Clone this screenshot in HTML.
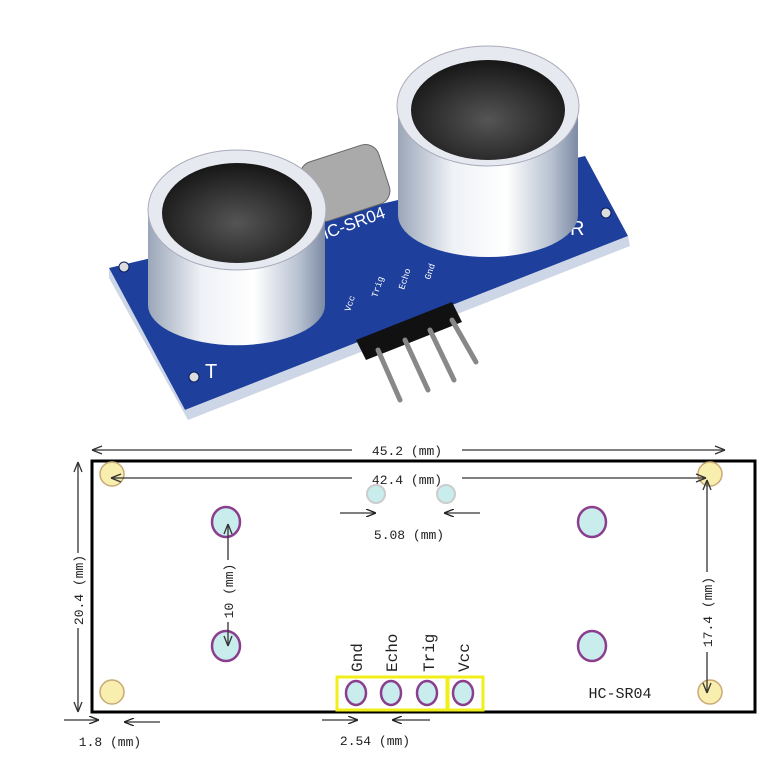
<!DOCTYPE html>
<html><head><meta charset="utf-8"><style>
html,body{margin:0;padding:0;background:#fff;}
svg{display:block;}
text{font-family:"Liberation Mono",monospace;fill:#222;}
</style></head><body>
<svg width="780" height="780" viewBox="0 0 780 780" xmlns="http://www.w3.org/2000/svg">
<defs>
<marker id="ah" markerWidth="10" markerHeight="8" refX="9" refY="4" orient="auto" markerUnits="userSpaceOnUse">
<path d="M0,0 L10,4 L0,8" fill="none" stroke="#222" stroke-width="1.3"/></marker>
<linearGradient id="cyl" x1="0" x2="1" y1="0" y2="0">
<stop offset="0" stop-color="#9aa6b8"/><stop offset="0.3" stop-color="#eef1f6"/><stop offset="0.6" stop-color="#ffffff"/><stop offset="0.85" stop-color="#b8c2d2"/><stop offset="1" stop-color="#7c8aa3"/></linearGradient>
<radialGradient id="mesh" cx="0.5" cy="0.6" r="0.6"><stop offset="0" stop-color="#555"/><stop offset="1" stop-color="#161616"/></radialGradient>
</defs>
<!-- PCB -->
<polygon points="109,268 585,156 628,236 185,410" fill="#1e3f9c"/>
<polygon points="109,268 185,410 628,236 630,246 188,420 109,278" fill="#cdd6e6"/>
<circle cx="124" cy="267" r="5" fill="#ddd" stroke="#0c1e5a"/>
<circle cx="194" cy="377" r="5" fill="#ddd" stroke="#0c1e5a"/>
<circle cx="606" cy="213" r="5" fill="#ddd" stroke="#0c1e5a"/>
<text x="205" y="378" style="font-family:'Liberation Sans',sans-serif;fill:#fff;font-size:20px">T</text>
<text x="570" y="235" style="font-family:'Liberation Sans',sans-serif;fill:#fff;font-size:20px">R</text>
<text x="318" y="242" transform="rotate(-20 318 242)" style="font-family:'Liberation Sans',sans-serif;fill:#fff;font-size:17px">HC-SR04</text>
<!-- crystal -->
<rect x="304" y="152" width="82" height="62" rx="14" fill="#aaa" stroke="#666" transform="rotate(-18 345 183)"/>
<!-- header & pins -->
<polygon points="356,340 452,302 462,322 366,360" fill="#111"/>
<g stroke="#888" stroke-width="5" stroke-linecap="round">
<line x1="378" y1="350" x2="400" y2="400"/><line x1="405" y1="340" x2="428" y2="390"/><line x1="430" y1="330" x2="454" y2="380"/><line x1="452" y1="320" x2="476" y2="362"/></g>
<g font-size="9">
<text x="350" y="312" transform="rotate(-72 350 312)" style="fill:#fff">Vcc</text>
<text x="377" y="298" transform="rotate(-72 377 298)" style="fill:#fff">Trig</text>
<text x="404" y="290" transform="rotate(-72 404 290)" style="fill:#fff">Echo</text>
<text x="430" y="280" transform="rotate(-72 430 280)" style="fill:#fff">Gnd</text></g>
<!-- left cylinder -->
<path d="M148,210 L148,305 A88,40 0 0 0 325,305 L325,210 Z" fill="url(#cyl)"/>
<ellipse cx="237" cy="210" rx="89" ry="60" fill="#e6e9ef" stroke="#aab" />
<ellipse cx="237" cy="213" rx="75" ry="50" fill="url(#mesh)"/>
<!-- right cylinder -->
<path d="M398,106 L398,215 A90,42 0 0 0 578,215 L578,106 Z" fill="url(#cyl)"/>
<ellipse cx="488" cy="106" rx="91" ry="60" fill="#e6e9ef" stroke="#aab"/>
<ellipse cx="488" cy="110" rx="77" ry="50" fill="url(#mesh)"/>

<!-- DIAGRAM -->
<rect x="92" y="461" width="663" height="251" fill="none" stroke="#000" stroke-width="3"/>
<!-- holes -->
<g fill="#f8eeae" stroke="#c9a977" stroke-width="1.5">
<circle cx="112" cy="474" r="12"/><circle cx="710" cy="474" r="12"/>
<circle cx="112" cy="692" r="12"/><circle cx="710" cy="692" r="12"/></g>
<g fill="#c9ecec" stroke="#8a3f8e" stroke-width="2.5">
<ellipse cx="226" cy="522" rx="14" ry="15"/><ellipse cx="592" cy="522" rx="14" ry="15"/>
<ellipse cx="226" cy="646" rx="14" ry="15"/><ellipse cx="592" cy="646" rx="14" ry="15"/></g>
<g fill="#c9ecec" stroke="#ccc" stroke-width="2"><circle cx="376" cy="494" r="9"/><circle cx="446" cy="494" r="9"/></g>
<rect x="337" y="677" width="110" height="33" fill="none" stroke="#f0ef1a" stroke-width="3"/>
<rect x="448" y="677" width="35" height="33" fill="none" stroke="#f0ef1a" stroke-width="3"/>
<g fill="#c9ecec" stroke="#8a3f8e" stroke-width="2.5">
<ellipse cx="356" cy="693" rx="10" ry="12"/><ellipse cx="391" cy="693" rx="10" ry="12"/>
<ellipse cx="427" cy="693" rx="10" ry="12"/><ellipse cx="463" cy="693" rx="10" ry="12"/></g>
<!-- dimension lines (on top) -->
<g stroke="#333" stroke-width="1.3" fill="none">
<path d="M92,450 L102,446 M92,450 L102,454 M725,450 L715,446 M725,450 L715,454"/>
<line x1="92" y1="450" x2="352" y2="450"/><line x1="462" y1="450" x2="725" y2="450"/>
<line x1="111" y1="478" x2="352" y2="478"/><line x1="462" y1="478" x2="706" y2="478"/>
<path d="M111,478 L121,474 M111,478 L121,482 M706,478 L696,474 M706,478 L696,482"/>
<line x1="340" y1="513" x2="375" y2="513" marker-end="url(#ah)"/>
<line x1="480" y1="513" x2="445" y2="513" marker-end="url(#ah)"/>
<line x1="78" y1="462" x2="78" y2="553"/><line x1="78" y1="628" x2="78" y2="712"/>
<path d="M78,462 L74,472 M78,462 L82,472 M78,712 L74,702 M78,712 L82,702"/>
<line x1="707" y1="480" x2="707" y2="572"/><line x1="707" y1="652" x2="707" y2="693"/>
<path d="M707,480 L703,490 M707,480 L711,490 M707,693 L703,683 M707,693 L711,683"/>
<line x1="228" y1="524" x2="228" y2="560"/><line x1="228" y1="622" x2="228" y2="646"/>
<path d="M228,524 L224,534 M228,524 L232,534 M228,646 L224,636 M228,646 L232,636"/>
<line x1="64" y1="720" x2="98" y2="720" marker-end="url(#ah)"/>
<line x1="160" y1="722" x2="125" y2="722" marker-end="url(#ah)"/>
<line x1="322" y1="720" x2="357" y2="720" marker-end="url(#ah)"/>
<line x1="430" y1="720" x2="393" y2="720" marker-end="url(#ah)"/>
</g>
<!-- labels -->
<g font-size="13">
<text x="407" y="455" text-anchor="middle">45.2 (mm)</text>
<text x="407" y="484" text-anchor="middle">42.4 (mm)</text>
<text x="409" y="539" text-anchor="middle">5.08 (mm)</text>
<text x="83" y="590" text-anchor="middle" transform="rotate(-90 83 590)">20.4 (mm)</text>
<text x="712" y="612" text-anchor="middle" transform="rotate(-90 712 612)">17.4 (mm)</text>
<text x="233" y="591" text-anchor="middle" transform="rotate(-90 233 591)">10 (mm)</text>
<text x="110" y="746" text-anchor="middle">1.8 (mm)</text>
<text x="375" y="745" text-anchor="middle">2.54 (mm)</text>
<text x="620" y="698" text-anchor="middle" font-size="15">HC-SR04</text>
</g>
<g font-size="16">
<text x="362" y="672" transform="rotate(-90 362 672)">Gnd</text>
<text x="397" y="672" transform="rotate(-90 397 672)">Echo</text>
<text x="434" y="672" transform="rotate(-90 434 672)">Trig</text>
<text x="469" y="672" transform="rotate(-90 469 672)">Vcc</text>
</g>
</svg>
</body></html>
